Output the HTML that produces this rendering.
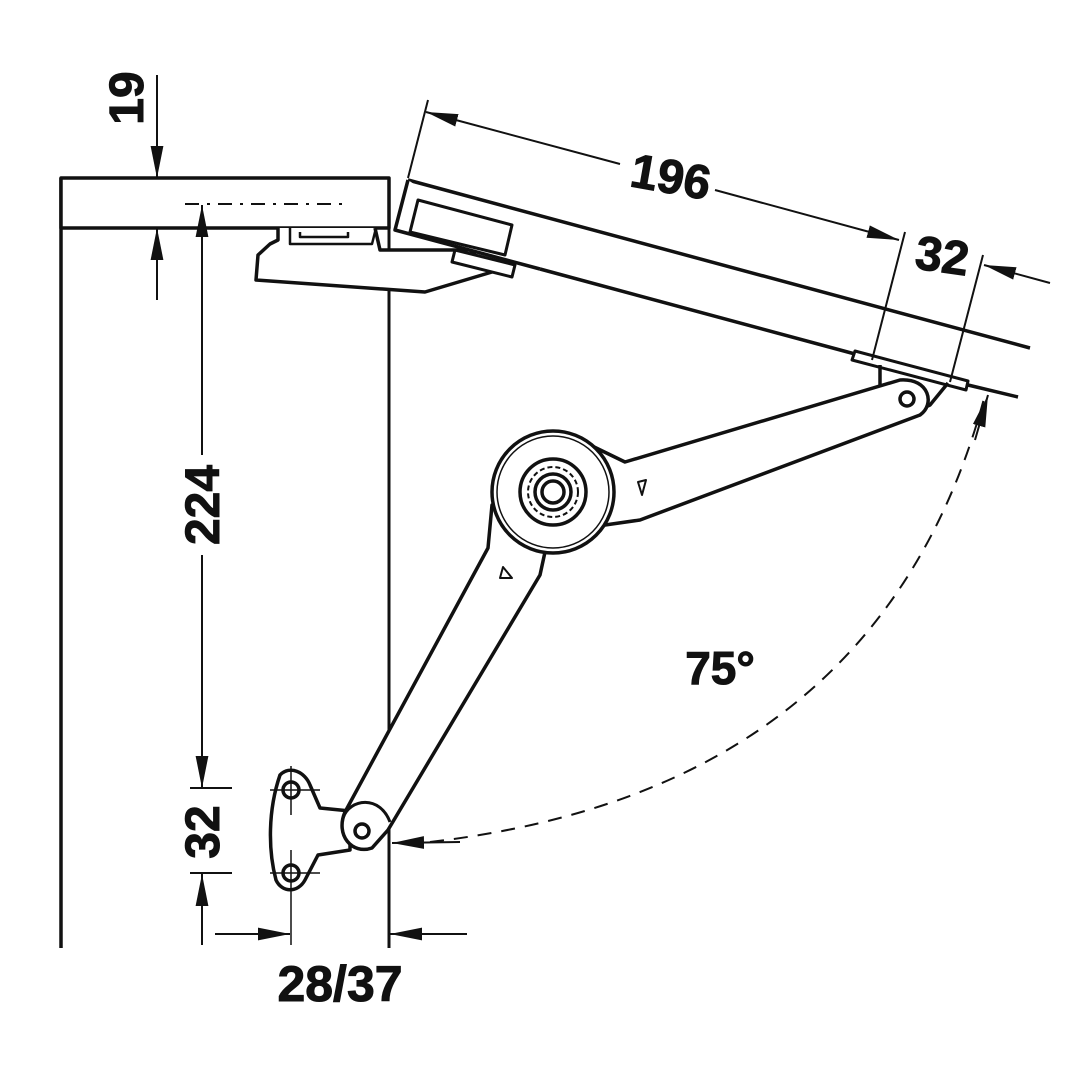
<!DOCTYPE html>
<html><head><meta charset="utf-8"><style>html,body{margin:0;padding:0;background:#fff}svg{display:block}</style></head>
<body>
<svg width="1080" height="1080" viewBox="0 0 1080 1080" xmlns="http://www.w3.org/2000/svg" font-family="Liberation Sans, sans-serif" font-weight="bold">
<defs>
<marker id="a" viewBox="0 0 30 12" refX="30" refY="6" markerWidth="32" markerHeight="13" markerUnits="userSpaceOnUse" orient="auto"><path d="M0,0 L30,6 L0,12 z" fill="#111"/></marker>
</defs>
<g stroke="#111" fill="none" stroke-width="3.5" stroke-linejoin="round">
<!-- cabinet -->
<line x1="61" y1="178" x2="61" y2="948"/>
<rect x="61" y="178" width="328" height="50" fill="#fff"/>
<line x1="389" y1="228" x2="389" y2="948" stroke-width="3"/>
<line x1="185" y1="204" x2="350" y2="204" stroke-width="2" stroke-dasharray="14,8,3,8"/>
<!-- fixed mount -->
<path d="M278,228 L278,240 L270,244 L258,255 L256,280 L425,292 L492,272 L470,250 L380,250 L375,228" fill="#fff"/>
<path d="M290,228 L290,244 L372,244 L376,228" stroke-width="2.5"/>
<path d="M300,232 L300,237 L348,237 L348,232" stroke-width="2.5"/>
<!-- lid -->
<path d="M408,180 L1030,348" />
<path d="M408,180 L395,230 L540,269" fill="#fff"/>
<path d="M540,269 L855,354"/>
<path d="M968,385 L1018,397"/>
<path d="M418,200 L512,225 L505,255 L410,232 Z" fill="#fff" stroke-width="3"/>
<path d="M455,250 L515,265 L512,277 L452,262 Z" fill="#fff" stroke-width="3"/>
<!-- plate -->
<path d="M855,351 L968,381 L966,390 L852,360 Z" fill="#fff" stroke-width="3"/>
<!-- upper arm -->
<path d="M880,365 L880,400 L892,422 L930,405 L948,383"/>
<path d="M553,492 L590,445 L625,462 L900,380 C930,378 935,405 920,415 L640,520 L605,525 Z" fill="#fff"/>
<circle cx="907" cy="399" r="7"/>
<path d="M638,482 L646,480 L642,495 Z" stroke-width="2"/>
<!-- bottom bracket -->
<path d="M280,775 C290,765 305,772 310,785 L320,808 L350,811 L350,850 L318,855 L305,880 C298,893 282,893 276,880 C268,850 268,810 280,775 Z" fill="#fff"/>
<circle cx="291" cy="790" r="8"/>
<circle cx="291" cy="873" r="8"/>
<g stroke-width="1.5"><line x1="270" y1="790" x2="320" y2="790"/><line x1="270" y1="873" x2="320" y2="873"/><line x1="291" y1="766" x2="291" y2="815"/><line x1="291" y1="850" x2="291" y2="945"/></g>
<!-- lower arm -->
<path d="M553,492 L492,505 L488,548 L345,812 C335,835 352,855 372,848 L388,830 L540,575 L545,552 Z" fill="#fff"/>
<path d="M343,818 C350,798 380,795 390,822" stroke-width="3"/>
<circle cx="362" cy="831" r="7"/>
<path d="M503,567 L512,578 L500,578 Z" stroke-width="2"/>
<!-- pivot -->
<circle cx="553" cy="492" r="61" fill="#fff"/>
<circle cx="553" cy="492" r="56" stroke-width="1.5"/>
<circle cx="553" cy="492" r="33"/>
<circle cx="553" cy="492" r="25" stroke-width="2" stroke-dasharray="5,3"/>
<circle cx="553" cy="492" r="18"/>
<circle cx="553" cy="492" r="11"/>
<!-- dimensions -->
<g stroke-width="2">
<line x1="157" y1="75" x2="157" y2="178" marker-end="url(#a)"/>
<line x1="157" y1="300" x2="157" y2="228" marker-end="url(#a)"/>
<line x1="202" y1="455" x2="202" y2="205" marker-end="url(#a)"/>
<line x1="202" y1="555" x2="202" y2="788" marker-end="url(#a)"/>
<line x1="190" y1="788" x2="232" y2="788"/><line x1="190" y1="873" x2="232" y2="873"/>
<line x1="202" y1="945" x2="202" y2="874" marker-end="url(#a)"/>
<line x1="215" y1="934" x2="290" y2="934" marker-end="url(#a)"/>
<line x1="467" y1="934" x2="390" y2="934" marker-end="url(#a)"/>
<line x1="428" y1="100" x2="408" y2="178"/>
<line x1="905" y1="232" x2="872" y2="360"/>
<line x1="983" y1="255" x2="950" y2="382"/>
<line x1="620" y1="164" x2="426" y2="112" marker-end="url(#a)"/>
<line x1="715" y1="190" x2="899" y2="240" marker-end="url(#a)"/>
<line x1="1050" y1="283" x2="984" y2="265" marker-end="url(#a)"/>
<path d="M430,842 Q880,790 985,395" stroke-dasharray="14,10"/>
<line x1="460" y1="842" x2="392" y2="843" marker-end="url(#a)"/>
<line x1="975" y1="440" x2="988" y2="395" marker-end="url(#a)"/>
</g>
</g>
<g fill="#111" font-size="48" stroke="#111" stroke-width="1">
<text transform="translate(143,98) rotate(-90)" text-anchor="middle">19</text>
<text transform="translate(219,505) rotate(-90)" text-anchor="middle">224</text>
<text transform="translate(219,832) rotate(-90)" text-anchor="middle">32</text>
<text x="340" y="1001" text-anchor="middle" font-size="50">28/37</text>
<text transform="translate(668,193) rotate(10)" text-anchor="middle">196</text>
<text transform="translate(940,272) rotate(8)" text-anchor="middle">32</text>
<text x="720" y="684" text-anchor="middle" font-size="46">75°</text>
</g>
</svg>
</body></html>
